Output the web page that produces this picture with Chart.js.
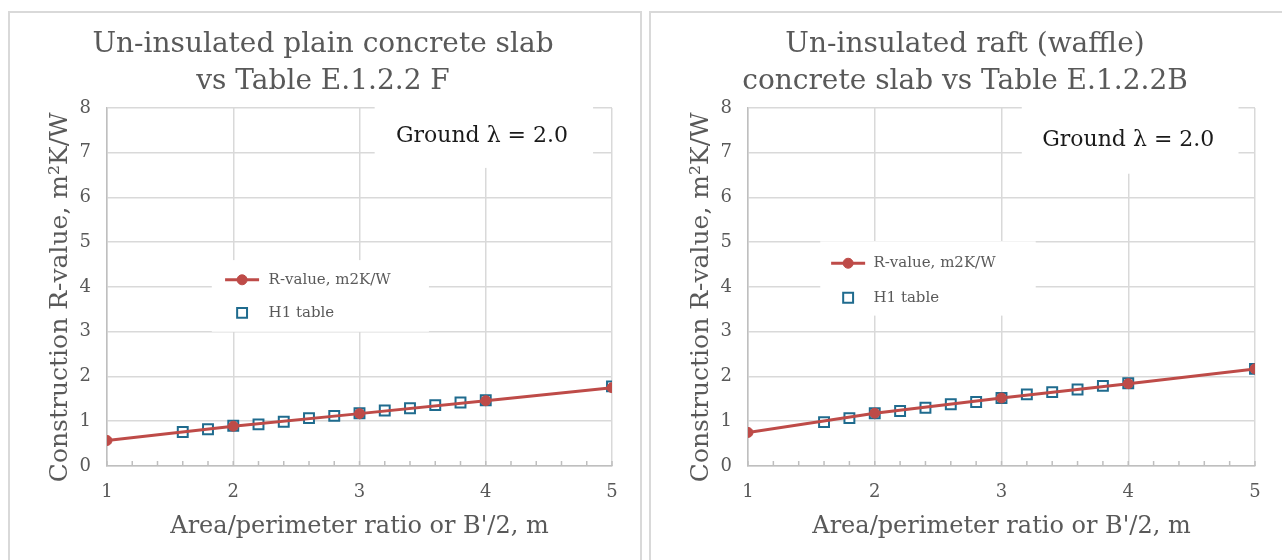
<!DOCTYPE html>
<html>
<head>
<meta charset="utf-8">
<script src="https://cdn.jsdelivr.net/npm/chart.js@4.4.1/dist/chart.umd.min.js"></script>
<style>
  html, body { margin: 0; padding: 0; background: #fff; }
  #page { position: relative; width: 1282px; height: 560px; overflow: hidden; }
  .frame { position: absolute; top: 11px; height: 620px; box-sizing: border-box; border: 2px solid #d9d9d9; }
  .holder { position: absolute; top: 0; width: 641px; height: 560px; }
</style>
</head>
<body>
<div id="page">
  <div class="frame" style="left:8px; width:634px;"></div>
  <div class="frame" style="left:649px; width:700px;"></div>
  <div class="holder" style="left:0px;"><canvas id="plainChart"></canvas></div>
  <div class="holder" style="left:641px;"><canvas id="waffleChart"></canvas></div>
</div>
<script>
  // Data
  const xTicks = [1, 2, 3, 4, 5];
  const yTicks = [0, 1, 2, 3, 4, 5, 6, 7, 8];

  // calculated R-value (red line), x = area/perimeter ratio
  const calcX = [1, 2, 3, 4, 5];
  const plainCalc = [0.57, 0.89, 1.17, 1.46, 1.75];
  const waffleCalc = [0.75, 1.18, 1.52, 1.84, 2.17];

  // H1 table values (blue squares)
  const tableX = [1.6, 1.8, 2.0, 2.2, 2.4, 2.6, 2.8, 3.0, 3.2, 3.4, 3.6, 3.8, 4.0, 5.0];
  const plainTable = [0.76, 0.82, 0.90, 0.93, 0.99, 1.07, 1.12, 1.18, 1.24, 1.29, 1.36, 1.42, 1.47, 1.78];
  const waffleTable = [0.98, 1.07, 1.18, 1.23, 1.30, 1.38, 1.43, 1.52, 1.60, 1.65, 1.71, 1.79, 1.85, 2.17];

  const seriesNames = ["R-value, m2K/W", "H1 table"];
  const plainTitle = ["Un-insulated plain concrete slab", "vs Table E.1.2.2 F"];
  const waffleTitle = ["Un-insulated raft (waffle)", "concrete slab vs Table E.1.2.2B"];
  const noteText = "Ground \u03bb = 2.0";
  const xTitle = "Area/perimeter ratio or B'/2, m";
  // trailing space nudges the rotated title a little lower, as in the original
  const yTitle = "Construction R-value, m\u00b2K/W\u2002 ";

  const FONT = "'DejaVu Serif', 'Liberation Serif', serif";
  const RED = "#be4b48";
  const BLUE = "#1f6b8e";
  const GRID = "#d9d9d9";
  const TEXT = "#595959";

  function toPoints(xs, ys) {
    return xs.map((x, i) => ({ x: x, y: ys[i] }));
  }

  function isWhole(v) {
    return Math.abs(v - Math.round(v)) < 1e-6;
  }

  // small upward tick marks along the x axis, every 0.2
  const innerTicks = {
    id: "innerTicks",
    beforeDatasetsDraw(chart) {
      const xs = chart.scales.x;
      const bottom = chart.chartArea.bottom;
      const ctx = chart.ctx;
      ctx.save();
      ctx.strokeStyle = "#bfbfbf";
      ctx.lineWidth = 1.5;
      xs.ticks.forEach((t) => {
        const px = xs.getPixelForValue(t.value);
        ctx.beginPath();
        ctx.moveTo(px, bottom);
        ctx.lineTo(px, bottom - 5);
        ctx.stroke();
      });
      ctx.restore();
    },
  };

  // white note box + legend box drawn inside the plot
  const boxes = {
    id: "boxes",
    beforeDatasetsDraw(chart, args, opts) {
      const xs = chart.scales.x;
      const ys = chart.scales.y;
      const ctx = chart.ctx;
      const rect = (b) => {
        const x0 = xs.getPixelForValue(b[0]);
        const x1 = xs.getPixelForValue(b[1]);
        const y0 = ys.getPixelForValue(b[2]);
        const y1 = ys.getPixelForValue(b[3]);
        ctx.fillStyle = "#fff";
        ctx.fillRect(x0, y0, x1 - x0, y1 - y0);
      };
      ctx.save();
      rect(opts.noteBox);
      rect(opts.legendBox);

      // note text
      ctx.fillStyle = "#1a1a1a";
      ctx.font = "22px " + FONT;
      ctx.textAlign = "center";
      ctx.textBaseline = "middle";
      ctx.fillText(noteText, xs.getPixelForValue(opts.noteAt[0]), ys.getPixelForValue(opts.noteAt[1]));

      // legend rows
      const ds = chart.data.datasets;
      const mx = xs.getPixelForValue(opts.legendX);
      const tx = xs.getPixelForValue(opts.legendTextX);
      ctx.font = "15px " + FONT;
      ctx.textAlign = "left";
      opts.legendY.forEach((yv, i) => {
        const py = ys.getPixelForValue(yv);
        const d = ds[i];
        if (d.showLine) {
          ctx.strokeStyle = d.borderColor;
          ctx.lineWidth = d.borderWidth;
          ctx.beginPath();
          ctx.moveTo(mx - 17, py);
          ctx.lineTo(mx + 17, py);
          ctx.stroke();
        }
        ctx.fillStyle = d.pointBackgroundColor;
        ctx.strokeStyle = d.pointBorderColor;
        ctx.lineWidth = d.pointBorderWidth;
        ctx.beginPath();
        if (d.pointStyle === "rect") {
          const s = Math.SQRT1_2 * d.pointRadius;
          ctx.rect(mx - s, py - s, 2 * s, 2 * s);
        } else {
          ctx.arc(mx, py, d.pointRadius, 0, Math.PI * 2);
        }
        ctx.fill();
        ctx.stroke();
        ctx.fillStyle = TEXT;
        ctx.fillText(seriesNames[i], tx, py);
      });
      ctx.restore();
    },
  };

  function makeChart(id, title, calc, table, boxOpts, padRight) {
    const ctx = document.getElementById(id).getContext("2d");
    return new Chart(ctx, {
      type: "scatter",
      data: {
        datasets: [
          {
            label: seriesNames[0],
            data: toPoints(calcX, calc),
            showLine: true,
            borderColor: RED,
            backgroundColor: RED,
            borderWidth: 3,
            tension: 0,
            pointStyle: "circle",
            pointRadius: 5,
            pointBackgroundColor: RED,
            pointBorderColor: RED,
            pointBorderWidth: 1,
          },
          {
            label: seriesNames[1],
            data: toPoints(tableX, table),
            showLine: false,
            pointStyle: "rect",
            pointRadius: 7,
            pointBackgroundColor: "#ffffff",
            pointBorderColor: BLUE,
            pointBorderWidth: 2,
          },
        ],
      },
      plugins: [innerTicks, boxes],
      options: {
        responsive: false,
        animation: false,
        layout: { padding: { left: 34, right: padRight, top: 0, bottom: 0 } },
        plugins: {
          legend: { display: false },
          tooltip: { enabled: false },
          title: {
            display: true,
            text: title,
            color: TEXT,
            font: { family: FONT, size: 28, weight: "normal", lineHeight: 1.32 },
            padding: { top: 26, bottom: 8 },
          },
          boxes: boxOpts,
        },
        scales: {
          x: {
            type: "linear",
            min: xTicks[0],
            max: xTicks[xTicks.length - 1],
            afterFit: (s) => { s.height = 94; },
            border: { display: true, color: "#bfbfbf", width: 1.5 },
            grid: {
              drawTicks: false,
              lineWidth: 1.5,
              color: (c) => (c.tick && isWhole(c.tick.value) ? GRID : "rgba(0,0,0,0)"),
            },
            ticks: {
              stepSize: 0.2,
              autoSkip: false,
              maxRotation: 0,
              padding: 16,
              color: TEXT,
              font: { family: FONT, size: 18 },
              callback: (v) => (isWhole(v) && xTicks.includes(Math.round(v)) ? String(Math.round(v)) : ""),
            },
            title: {
              display: true,
              text: xTitle,
              color: TEXT,
              font: { family: FONT, size: 24, lineHeight: 1.2 },
              padding: { top: 0, bottom: 19 },
            },
          },
          y: {
            type: "linear",
            min: yTicks[0],
            max: yTicks[yTicks.length - 1],
            afterFit: (s) => { s.width = 73; },
            border: { display: true, color: "#bfbfbf", width: 1.5 },
            grid: { drawTicks: false, lineWidth: 1.5, color: GRID },
            ticks: {
              stepSize: 1,
              padding: 16,
              color: TEXT,
              font: { family: FONT, size: 18 },
            },
            title: {
              display: true,
              text: yTitle,
              color: TEXT,
              font: { family: FONT, size: 25, lineHeight: 1.2 },
              padding: { top: 11, bottom: 0 },
            },
          },
        },
      },
    });
  }

  document.getElementById("plainChart").width = 641;
  document.getElementById("plainChart").height = 560;
  document.getElementById("waffleChart").width = 641;
  document.getElementById("waffleChart").height = 560;

  makeChart("plainChart", plainTitle, plainCalc, plainTable, {
    noteBox: [3.12, 4.85, 8.08, 6.66],
    noteAt: [3.97, 7.37],
    legendBox: [1.83, 3.55, 4.6, 3.0],
    legendX: 2.07,
    legendTextX: 2.28,
    legendY: [4.16, 3.42],
  }, 29);

  makeChart("waffleChart", waffleTitle, waffleCalc, waffleTable, {
    noteBox: [3.16, 4.87, 8.08, 6.53],
    noteAt: [4.0, 7.27],
    legendBox: [1.57, 3.27, 5.02, 3.36],
    legendX: 1.79,
    legendTextX: 1.99,
    legendY: [4.53, 3.76],
  }, 27);
</script>
</body>
</html>
